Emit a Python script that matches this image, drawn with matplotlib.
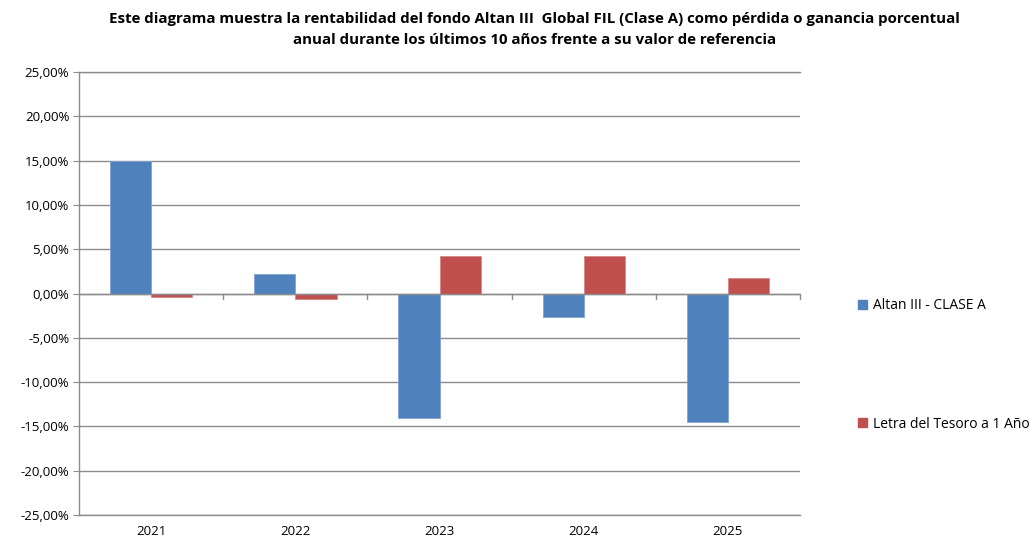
import numpy as np
import matplotlib
matplotlib.use("Agg")
import matplotlib.pyplot as plt
from matplotlib.patches import Patch
from matplotlib.ticker import FuncFormatter

years = ["2021", "2022", "2023", "2024", "2025"]
fondo = [15.0, 2.2, -14.1, -2.6, -14.55]
letra = [-0.4, -0.65, 4.2, 4.2, 1.8]
series_names = ["Altan III - CLASE A", "Letra del Tesoro a 1 Año"]
yticks = [-25, -20, -15, -10, -5, 0, 5, 10, 15, 20, 25]

blue = "#4F81BD"
red = "#C0504D"
grid_col = "#8C8C8C"

plt.rcParams['font.family'] = ['Open Sans', 'DejaVu Sans']

fig = plt.figure(figsize=(10.34, 5.41), dpi=100)
ax = fig.add_axes([0.0764, 0.048, 0.6973, 0.8189])

x = np.arange(len(years))
w = 1 / 3.5
ax.bar(x - w / 2, fondo, w, color=blue, edgecolor="#7FA3CF", linewidth=0.6, zorder=3)
ax.bar(x + w / 2, letra, w, color=red, edgecolor="#D48A88", linewidth=0.6, zorder=3)

ax.set_xlim(-0.5, len(years) - 0.5)
ax.set_ylim(-25, 25)
ax.set_yticks(yticks)
ax.yaxis.set_major_formatter(FuncFormatter(lambda v, p: f"{v:.2f}%".replace(".", ",")))
ax.grid(axis="y", color=grid_col, linewidth=1.0, zorder=0)
ax.axhline(0, color=grid_col, linewidth=1.0, zorder=4)
ax.axhline(-25, color=grid_col, linewidth=1.0, zorder=4, clip_on=False)
ax.axhline(25, color=grid_col, linewidth=1.0, zorder=4, clip_on=False)

for s in ["top", "right", "bottom"]:
    ax.spines[s].set_visible(False)
ax.spines["left"].set_color(grid_col)
ax.spines["left"].set_linewidth(1.0)

# category ticks sit on the zero line between groups
ax.set_xticks(x)
ax.set_xticklabels(years, fontsize=9.5)
ax.tick_params(axis="x", length=0, pad=7)
for b in np.arange(0.5, len(years), 1.0):
    ax.plot([b, b], [0, -0.6], color=grid_col, linewidth=1.0, zorder=4, clip_on=False)
ax.tick_params(axis="y", length=4, color=grid_col, labelsize=9.5, pad=3)

fig.text(0.517, 0.978, "Este diagrama muestra la rentabilidad del fondo Altan III  Global FIL (Clase A) como pérdida o ganancia porcentual\nanual durante los últimos 10 años frente a su valor de referencia",
         ha="center", va="top", fontsize=10.8, fontweight="bold", linespacing=1.6)

handles = [Patch(color=blue), Patch(color=red)]
fig.legend(handles, series_names, loc="upper left", bbox_to_anchor=(0.818, 0.472),
           frameon=False, fontsize=10, handlelength=0.6, handleheight=0.6,
           handletextpad=0.45, labelspacing=7.45)

fig.savefig("out.png", dpi=100)
